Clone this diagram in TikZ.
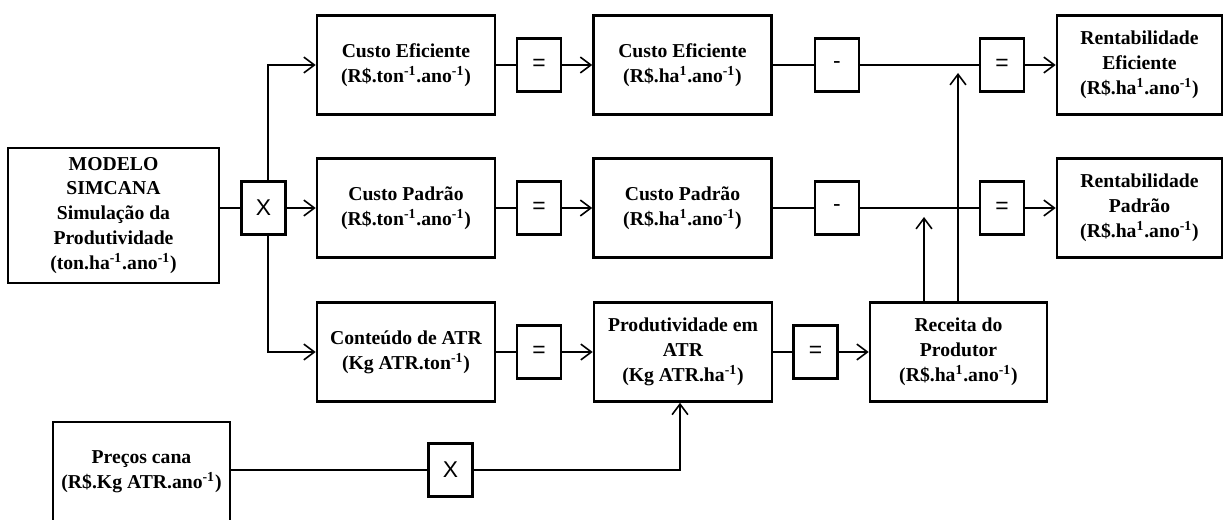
\documentclass[tikz,border=0pt]{standalone}
\usepackage{fontspec}
\setmainfont{Liberation Serif}
\newfontfamily\opfont{Liberation Sans}
\usetikzlibrary{arrows.meta}

\tikzset{
    bloco/.style={draw, line width=1.5pt, minimum width=3.56cm, minimum height=1.98cm, inner sep=0pt, align=center, font=\fontsize{11.2}{14.2}\selectfont\bfseries},
    oper/.style={draw, line width=1.5pt, minimum width=0.88cm, minimum height=1.06cm, inner sep=0pt, font=\opfont\fontsize{13}{14}\selectfont},
    liga/.style={line width=0.9pt},
    seta/.style={liga, -{Straight Barb[length=6pt,width=9pt]}}
}

\begin{document}
\begin{tikzpicture}[x=0.02cm, y=-0.02cm]
    \clip (0,0) rectangle (1225,520);
    % Blocos
    \node[bloco, minimum width=4.22cm, minimum height=2.7cm] (simcana) at (113.5,215.5) {MODELO\\SIMCANA\\Simulação da\\Produtividade\\(ton.ha\textsuperscript{-1}.ano\textsuperscript{-1})};
    \node[bloco] (efiTon) at (406,65) {Custo Eficiente\\(R\$.ton\textsuperscript{-1}.ano\textsuperscript{-1})};
    \node[bloco] (efiHa) at (682.5,65) {Custo Eficiente\\(R\$.ha\textsuperscript{1}.ano\textsuperscript{-1})};
    \node[bloco, minimum width=3.3cm] (rentEfi) at (1139.5,65) {Rentabilidade\\Eficiente\\(R\$.ha\textsuperscript{1}.ano\textsuperscript{-1})};
    \node[bloco] (padTon) at (406,208) {Custo Padrão\\(R\$.ton\textsuperscript{-1}.ano\textsuperscript{-1})};
    \node[bloco] (padHa) at (682.5,208) {Custo Padrão\\(R\$.ha\textsuperscript{1}.ano\textsuperscript{-1})};
    \node[bloco, minimum width=3.3cm] (rentPad) at (1139.5,208) {Rentabilidade\\Padrão\\(R\$.ha\textsuperscript{1}.ano\textsuperscript{-1})};
    \node[bloco] (atrTon) at (406,352) {Conteúdo de ATR\\(Kg ATR.ton\textsuperscript{-1})};
    \node[bloco] (prodAtr) at (683,352) {Produtividade em\\ATR\\(Kg ATR.ha\textsuperscript{-1})};
    \node[bloco, minimum width=3.54cm] (receita) at (958.5,352) {Receita do\\Produtor\\(R\$.ha\textsuperscript{1}.ano\textsuperscript{-1})};
    \node[bloco, minimum width=3.54cm, minimum height=2cm] (precos) at (141.5,472) {Preços cana\\(R\$.Kg ATR.ano\textsuperscript{-1})};

    % Operadores
    \foreach \nome/\x/\y/\sinal in {xa/263.5/208/X, eq1/539/65/=, men1/837/65/-, eq2/1002/65/=, eq3/539/208/=, men2/837/208/-, eq4/1002/208/=, eq5/539/352/=, eq6/815.5/352/=, xb/450.5/470/X}
        \node[oper] (\nome) at (\x,\y) {\sinal};

    % Ligacoes
    \draw[liga] (simcana.east |- xa.west) -- (xa.west);
    \draw[seta] (xa.east) -- (padTon.west);
    \draw[seta] ([xshift=0.09cm]xa.north) |- (efiTon.west);
    \draw[seta] ([xshift=0.09cm]xa.south) |- (atrTon.west);

    \draw[liga] (efiTon.east) -- (eq1.west);
    \draw[seta] (eq1.east) -- (efiHa.west);
    \draw[liga] (efiHa.east) -- (men1.west);
    \draw[liga] (men1.east) -- (eq2.west);
    \draw[seta] (eq2.east) -- (rentEfi.west);

    \draw[liga] (padTon.east) -- (eq3.west);
    \draw[seta] (eq3.east) -- (padHa.west);
    \draw[liga] (padHa.east) -- (men2.west);
    \draw[liga] (men2.east) -- (eq4.west);
    \draw[seta] (eq4.east) -- (rentPad.west);

    \draw[liga] (atrTon.east) -- (eq5.west);
    \draw[seta] (eq5.east) -- (prodAtr.west);
    \draw[liga] (prodAtr.east) -- (eq6.west);
    \draw[seta] (eq6.east) -- (receita.west);

    \coordinate (pontaPad) at (924,217);
    \coordinate (pontaEfi) at (958,73);
    \draw[seta] (receita.north -| pontaPad) -- (pontaPad);
    \draw[seta] (receita.north -| pontaEfi) -- (pontaEfi);

    \draw[liga] (precos.east |- xb.west) -- (xb.west);
    \draw[seta] (xb.east) -| ([xshift=-0.06cm]prodAtr.south);
\end{tikzpicture}
\end{document}
